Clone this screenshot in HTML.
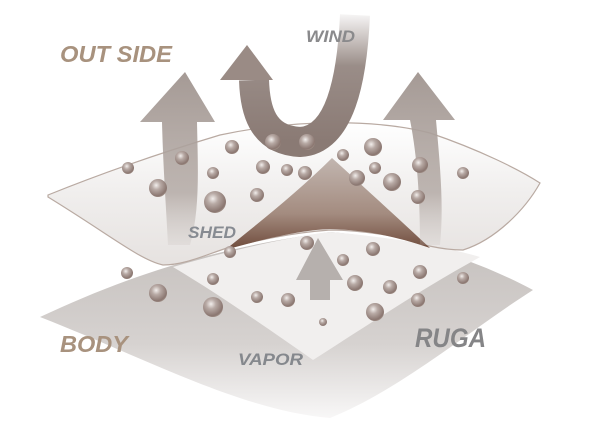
<!DOCTYPE html>
<html><head><meta charset="utf-8"><style>
html,body{margin:0;padding:0;background:#fff;}
svg{display:block;}
text{font-family:"Liberation Sans",sans-serif;font-weight:bold;font-style:italic;}
</style></head><body>
<svg width="600" height="444" viewBox="0 0 600 444" xmlns="http://www.w3.org/2000/svg">
<defs>
<linearGradient id="gbot" x1="0" y1="0" x2="0" y2="1">
<stop offset="0" stop-color="#c4bfbc"/><stop offset="0.6" stop-color="#d6d2d0"/><stop offset="1" stop-color="#f8f7f7"/>
</linearGradient>
<linearGradient id="gtop" x1="0" y1="0" x2="0" y2="1">
<stop offset="0" stop-color="#ffffff"/><stop offset="0.5" stop-color="#f0eeed"/><stop offset="1" stop-color="#e6e2e0"/>
</linearGradient>
<linearGradient id="gflap" x1="0" y1="0" x2="0" y2="1">
<stop offset="0" stop-color="#c2b6b0"/><stop offset="0.6" stop-color="#a48c80"/><stop offset="1" stop-color="#6e4a3a"/>
</linearGradient>
<linearGradient id="garrowL" x1="0" y1="0" x2="0" y2="1">
<stop offset="0" stop-color="#a59a95"/><stop offset="0.7" stop-color="#b0a6a1" stop-opacity="0.8"/><stop offset="1" stop-color="#c0b8b4" stop-opacity="0.2"/>
</linearGradient>
<linearGradient id="gwind" x1="0" y1="0" x2="0" y2="1">
<stop offset="0" stop-color="#9a8d88" stop-opacity="0.1"/><stop offset="0.4" stop-color="#9a8d88"/><stop offset="1" stop-color="#8a7a74"/>
</linearGradient>
<radialGradient id="ball" cx="0.4" cy="0.35" r="0.7">
<stop offset="0" stop-color="#f2eeec"/><stop offset="0.35" stop-color="#b8aaa5"/><stop offset="0.85" stop-color="#8a7670"/><stop offset="1" stop-color="#a8988f"/>
</radialGradient>
</defs>

<path d="M40,317 C120,280 200,250 330,232 C420,240 480,262 533,290 C470,330 400,390 330,418 C240,410 150,360 40,317 Z" fill="url(#gbot)"/>
<path d="M173,267 C230,250 300,235 330,232 C400,238 450,248 480,257 C420,290 360,330 313,360 C270,330 220,295 173,267 Z" fill="#f1efee"/>

<path d="M48,195 C110,170 170,150 220,135 C300,118 380,120 430,133 C480,150 520,170 540,183 C525,210 495,240 463,250 C440,250 420,244 397,237 C370,232 350,230 330,230 C290,233 260,240 230,247 C205,255 185,265 163,265 C140,260 110,235 48,197 Z" fill="url(#gtop)" stroke="#b9aaa2" stroke-width="1.2"/>
<path d="M332,158 C300,190 260,222 225,250 C260,240 300,230 330,229 C365,230 395,236 430,248 C400,220 365,188 332,158 Z" fill="url(#gflap)"/>

<path d="M185,72 L215,122 L197,122 C198,170 200,210 190,245 L168,245 C166,205 163,165 162,122 L140,122 Z" fill="url(#garrowL)"/>
<path d="M418,72 L455,120 L436,120 C440,165 444,205 440,245 L420,245 C420,205 418,160 410,120 L383,120 Z" fill="url(#garrowL)"/>
<path d="M355,15 C352,80 340,140 300,142 C262,140 255,110 254,80" fill="none" stroke="url(#gwind)" stroke-width="30"/>
<path d="M247,45 L273,80 L220,80 Z" fill="#9a8b85"/>

<path d="M318,238 L343,280 L330,280 L330,300 L310,300 L310,280 L296,280 Z" fill="#a8a09c" opacity="0.8"/>

<g fill="url(#ball)">
<circle cx="128" cy="168" r="6"/><circle cx="158" cy="188" r="9"/><circle cx="215" cy="202" r="11"/>
<circle cx="182" cy="158" r="7"/><circle cx="232" cy="147" r="7"/><circle cx="213" cy="173" r="6"/>
<circle cx="263" cy="167" r="7"/><circle cx="257" cy="195" r="7"/><circle cx="287" cy="170" r="6"/>
<circle cx="305" cy="173" r="7"/><circle cx="273" cy="142" r="8"/><circle cx="307" cy="142" r="8"/>
<circle cx="343" cy="155" r="6"/><circle cx="373" cy="147" r="9"/><circle cx="375" cy="168" r="6"/>
<circle cx="357" cy="178" r="8"/><circle cx="392" cy="182" r="9"/><circle cx="420" cy="165" r="8"/>
<circle cx="418" cy="197" r="7"/><circle cx="463" cy="173" r="6"/>
<circle cx="127" cy="273" r="6"/><circle cx="158" cy="293" r="9"/><circle cx="213" cy="307" r="10"/>
<circle cx="213" cy="279" r="6"/><circle cx="230" cy="252" r="6"/><circle cx="307" cy="243" r="7"/>
<circle cx="343" cy="260" r="6"/><circle cx="373" cy="249" r="7"/><circle cx="355" cy="283" r="8"/>
<circle cx="390" cy="287" r="7"/><circle cx="420" cy="272" r="7"/><circle cx="463" cy="278" r="6"/>
<circle cx="418" cy="300" r="7"/><circle cx="375" cy="312" r="9"/><circle cx="323" cy="322" r="4"/>
<circle cx="288" cy="300" r="7"/><circle cx="257" cy="297" r="6"/>
</g>

<text x="60" y="62" font-size="23" fill="#a8927e" textLength="112" lengthAdjust="spacingAndGlyphs">OUT SIDE</text>
<text x="306" y="42" font-size="17" fill="#8a8a8c" textLength="49" lengthAdjust="spacingAndGlyphs">WIND</text>
<text x="188" y="238" font-size="17" fill="#878b92" textLength="48" lengthAdjust="spacingAndGlyphs">SHED</text>
<text x="60" y="352" font-size="23" fill="#a8927e" textLength="68" lengthAdjust="spacingAndGlyphs">BODY</text>
<text x="238" y="365" font-size="17" fill="#85888d" textLength="65" lengthAdjust="spacingAndGlyphs">VAPOR</text>
<text x="415" y="347" font-size="27" fill="#858587" textLength="71" lengthAdjust="spacingAndGlyphs">RUGA</text>
</svg>
</body></html>
